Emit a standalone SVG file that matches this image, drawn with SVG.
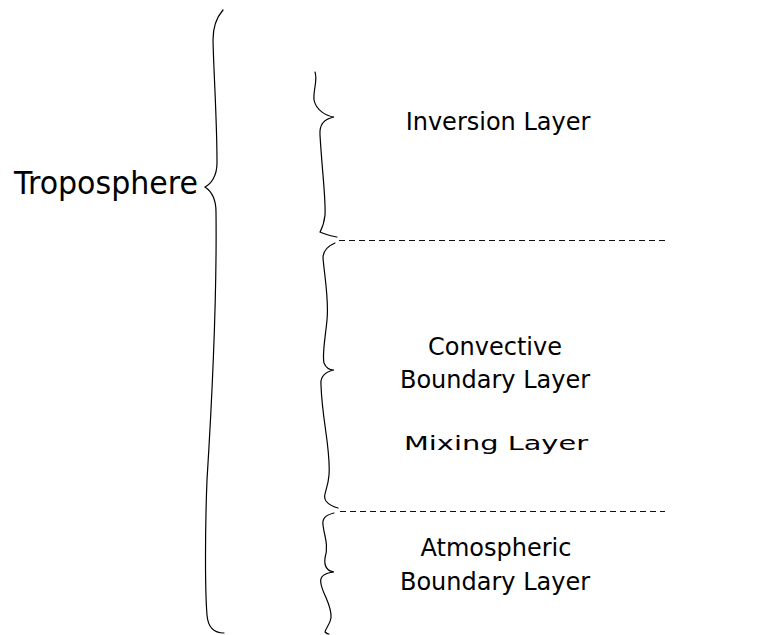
<svg xmlns="http://www.w3.org/2000/svg" width="780" height="635" viewBox="0 0 780 635">
<style>
.brace{fill:none;stroke:#000;stroke-width:1.2;stroke-linecap:round}
.dash{fill:none;stroke:#111;stroke-width:1;stroke-dasharray:6,4}
.lbl{font-family:"DejaVu Sans","Liberation Sans",sans-serif;font-size:24px;fill:#000;text-anchor:middle}
</style>
<rect width="780" height="635" fill="#fff"/>
<g id="connectors">
<path class="dash" d="M339,240.5 H665"/>
<path class="dash" d="M340,511.5 H665"/>
</g>
<g id="troposphere">
<path class="brace" d="M223,10 C216,18 213,28 213,40 C214,80 217,120 217,163 C217,176 211,184 205,187 C211,191 216,199 216,212 C217,300 212,400 207,480 C205,530 205,590 207,615 C208,628 214,633 224,633"/>
<text x="14" y="194" font-family="DejaVu Sans, Liberation Sans, sans-serif" font-size="32" textLength="184" lengthAdjust="spacingAndGlyphs">Troposphere</text>
</g>
<g id="inversion">
<path class="brace" d="M315,72 C318,80 313,90 314,100 C316,110 326,116 334,117 C324,119 319,124 320,135 C322,170 326,200 325,215 C324,225 321,230 320,232 C326,235 332,236 337,237"/>
<text class="lbl" x="498" y="130">Inversion Layer</text>
</g>
<g id="convective">
<path class="brace" d="M335,243 C328,246 323,250 323,258 C325,280 329,300 327,320 C325,340 322,355 324,363 C326,368 330,370 334,370 C325,372 320,376 321,385 C322,420 331,450 329,475 C328,490 322,495 326,501 C329,505 334,507 338,508"/>
<text class="lbl" x="495" y="355">Convective</text>
<text class="lbl" x="495" y="388">Boundary Layer</text>
<text x="404" y="450" font-family="DejaVu Sans, Liberation Sans, sans-serif" font-size="20" textLength="184" lengthAdjust="spacingAndGlyphs">Mixing Layer</text>
</g>
<g id="atmospheric">
<path class="brace" d="M334,513 C326,515 322,518 323,525 C324,535 329,545 325,558 C324,566 327,571 334,572 C325,573 319,576 321,584 C323,595 332,605 331,618 C330,625 325,629 325,632 C326,633 328,634 329,634"/>
<text class="lbl" x="496" y="556">Atmospheric</text>
<text class="lbl" x="495" y="590">Boundary Layer</text>
</g>
</svg>
